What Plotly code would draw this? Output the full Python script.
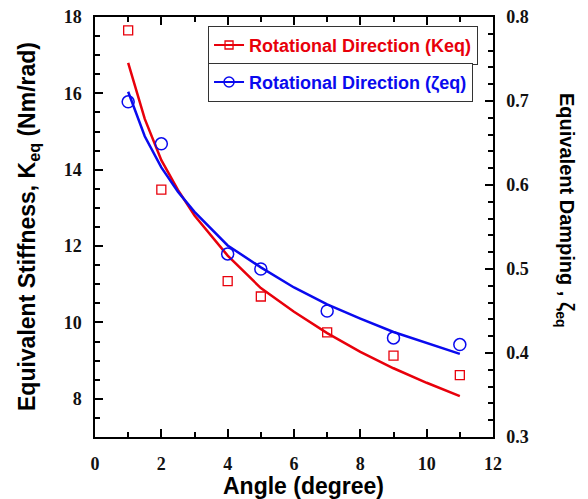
import plotly.graph_objects as go

# Measured data points
angle_pts = [1, 2, 4, 5, 7, 9, 11]
keq_pts = [17.65, 13.48, 11.08, 10.68, 9.74, 9.13, 8.62]
zeta_pts = [0.699, 0.649, 0.518, 0.500, 0.450, 0.418, 0.410]

# Fitted curves
angle_fit = [1, 1.5, 2, 2.5, 3, 4, 5, 6, 7, 8, 9, 10, 11]
keq_fit = [16.80, 15.33, 14.25, 13.47, 12.80, 11.75, 10.90, 10.28, 9.72, 9.23, 8.80, 8.42, 8.07]
zeta_fit = [0.711, 0.658, 0.621, 0.592, 0.568, 0.528, 0.502, 0.478, 0.458, 0.441, 0.425, 0.412, 0.399]

RED = "#e8000b"
BLUE = "#0a0aee"
legend_k = "Rotational Direction (Keq)"
legend_z = "Rotational Direction (ζeq)"
x_title = "<b>Angle (degree)</b>"
y_title = "<b>Equivalent Stiffness, K<sub>eq</sub> (Nm/rad)</b>"
y2_title = "<b>Equivalent Damping , ζ<sub>eq</sub></b>"

fig = go.Figure()
fig.add_trace(go.Scatter(x=angle_fit, y=keq_fit, mode="lines", line=dict(color=RED, width=2.5),
                         showlegend=False, yaxis="y"))
fig.add_trace(go.Scatter(x=angle_pts, y=keq_pts, mode="markers",
                         marker=dict(symbol="square-open", size=9, color=RED, line=dict(width=1.3)),
                         showlegend=False, yaxis="y"))
fig.add_trace(go.Scatter(x=angle_fit, y=zeta_fit, mode="lines", line=dict(color=BLUE, width=2.5),
                         showlegend=False, yaxis="y2"))
fig.add_trace(go.Scatter(x=angle_pts, y=zeta_pts, mode="markers",
                         marker=dict(symbol="circle-open", size=12, color=BLUE, line=dict(width=1.5)),
                         showlegend=False, yaxis="y2"))
# legend entries
fig.add_trace(go.Scatter(x=[None], y=[None], mode="lines+markers", name=legend_k,
                         line=dict(color=RED, width=2),
                         marker=dict(symbol="square-open", size=8, color=RED, line=dict(width=1.3)),
                         legend="legend"))
fig.add_trace(go.Scatter(x=[None], y=[None], mode="lines+markers", name=legend_z,
                         line=dict(color=BLUE, width=2),
                         marker=dict(symbol="circle-open", size=10, color=BLUE, line=dict(width=1.5)),
                         legend="legend2", yaxis="y2"))

tickfont = dict(family="Liberation Serif", size=18, color="#111111", weight=700)
titlefont = dict(family="Liberation Sans", size=23, color="black")
axcol = "black"

fig.update_layout(
    width=588, height=499,
    margin=dict(l=95, r=95, t=17, b=62, autoexpand=False),
    paper_bgcolor="white", plot_bgcolor="white",
    xaxis=dict(range=[0, 12], dtick=2, tick0=0, ticks="inside", ticklen=8, tickwidth=1.5, tickcolor=axcol,
               minor=dict(ticks="inside", dtick=1, ticklen=5, tickwidth=1.5, tickcolor=axcol),
               showline=True, linecolor=axcol, linewidth=1.5, mirror="ticks", showgrid=False, zeroline=False,
               tickfont=tickfont, ticklabelstandoff=10, automargin=False),
    yaxis=dict(range=[7, 18], dtick=2, tick0=8, ticks="inside", ticklen=8, tickwidth=1.5, tickcolor=axcol,
               minor=dict(ticks="inside", dtick=0.5, ticklen=5, tickwidth=1.5, tickcolor=axcol),
               showline=True, linecolor=axcol, linewidth=1.5, showgrid=False, zeroline=False,
               tickfont=tickfont, ticklabelstandoff=8, automargin=False),
    yaxis2=dict(range=[0.3, 0.8], dtick=0.1, tick0=0.3, ticks="inside", ticklen=8, tickwidth=1.5, tickcolor=axcol,
                minor=dict(ticks="inside", dtick=0.02, ticklen=5, tickwidth=1.5, tickcolor=axcol),
                overlaying="y", side="right", tickformat=".1f",
                showline=True, linecolor=axcol, linewidth=1.5, showgrid=False, zeroline=False,
                tickfont=tickfont, ticklabelstandoff=8, automargin=False),
    legend=dict(x=0.284, y=0.979, xanchor="left", yanchor="top", bgcolor="white",
                bordercolor="#333333", borderwidth=1,
                font=dict(family="Liberation Sans", size=18, color=RED, weight="bold")),
    legend2=dict(x=0.284, y=0.891, xanchor="left", yanchor="top", bgcolor="white",
                 bordercolor="#333333", borderwidth=1,
                 font=dict(family="Liberation Sans", size=18, color=BLUE, weight="bold")),
    annotations=[
        dict(text=x_title, xref="paper", yref="paper", x=0.5, y=0, xanchor="center", yanchor="middle",
             xshift=9, yshift=-49, showarrow=False, font=titlefont),
        dict(text=y_title, textangle=-90, xref="paper", yref="paper", x=0, y=0.5,
             xanchor="center", yanchor="middle", xshift=-67, yshift=0, showarrow=False, font=titlefont),
        dict(text=y2_title, textangle=90, xref="paper", yref="paper", x=1.0, y=0.5,
             xanchor="center", yanchor="middle", xshift=73, yshift=17, showarrow=False,
             font=dict(family="Liberation Sans", size=20, color="black")),
    ],
)

fig.write_html("out.html")
